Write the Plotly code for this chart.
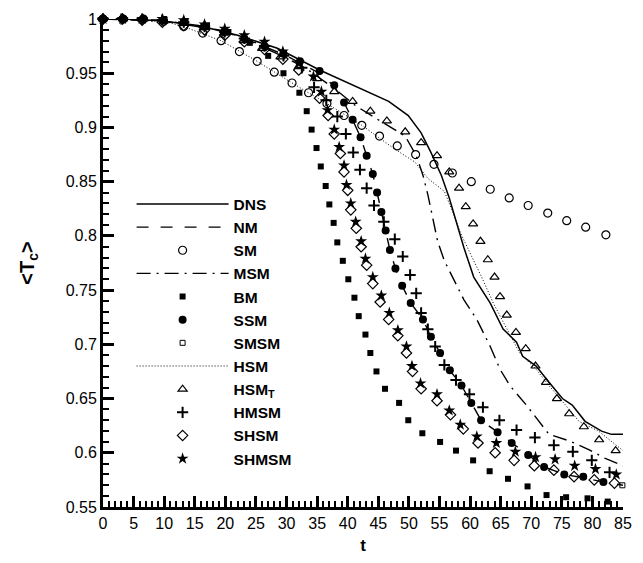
import plotly.graph_objects as go

# ---------------- data ----------------
dns_t = [0, 5, 10, 15.6, 22, 25.2, 28.5, 35.4, 41.3, 46.7, 49.9, 52.0, 53.6, 55.3, 56.6, 57.7, 59.0,
         60.6, 63.3, 65.4, 67.6, 68.6, 70.8, 72.9, 75.1, 76.7, 78.8, 81.5, 83.1, 85]
dns_v = [1.0, 1.0, 0.998, 0.994, 0.985, 0.979, 0.973, 0.953, 0.938, 0.924, 0.911, 0.895, 0.877, 0.856,
         0.835, 0.814, 0.789, 0.762, 0.738, 0.714, 0.702, 0.689, 0.680, 0.665, 0.650, 0.644, 0.629,
         0.620, 0.617, 0.617]

nm_t = [0, 10, 20, 25, 30, 33, 35.4, 37.8, 39.4, 40.8, 42.1, 43.1, 44.1, 44.8, 45.5, 46.2, 46.9, 47.8,
        48.9, 50.3, 52.3, 53.6, 55.1, 56.7, 58.6, 60.2, 61.8, 64.5, 66.8, 69.5, 72.1, 75.4, 78.5, 81.8, 85]
nm_v = [1.0, 0.999, 0.988, 0.978, 0.966, 0.957, 0.950, 0.938, 0.923, 0.907, 0.891, 0.874, 0.857, 0.840,
        0.822, 0.805, 0.787, 0.770, 0.754, 0.738, 0.723, 0.707, 0.692, 0.676, 0.662, 0.646, 0.630, 0.619,
        0.609, 0.598, 0.587, 0.580, 0.577, 0.573, 0.570]

sm_t = [0, 3.3, 6.6, 9.9, 13.2, 16.3, 19.3, 22.3, 25.2, 28.0, 30.9, 33.6, 36.6, 39.4, 42.3, 45.2, 48.1,
        51.1, 54.1, 57.1, 60.2, 63.3, 66.4, 69.5, 72.7, 75.8, 78.9, 82.2]
sm_v = [1.0, 1.0, 1.0, 0.998, 0.993, 0.987, 0.980, 0.970, 0.961, 0.951, 0.941, 0.932, 0.922, 0.911,
        0.902, 0.892, 0.883, 0.875, 0.866, 0.858, 0.850, 0.843, 0.835, 0.828, 0.821, 0.814, 0.808, 0.801]

msm_t = [0, 10, 20, 25, 30, 33.3, 37.8, 41.3, 45.6, 49.4, 51.2, 52.3, 53.1, 53.9, 54.7, 55.8, 57.4, 59.0,
         61.1, 63.3, 64.9, 66.5, 69.2, 71.3, 72.9, 76.2, 79.4, 82.0, 85]
msm_v = [1.0, 0.998, 0.989, 0.977, 0.964, 0.954, 0.936, 0.920, 0.905, 0.892, 0.874, 0.856, 0.838, 0.817,
         0.795, 0.777, 0.759, 0.741, 0.723, 0.698, 0.677, 0.662, 0.644, 0.629, 0.617, 0.611, 0.603,
         0.595, 0.588]

bm_t = [0, 3.3, 6.6, 10, 13.5, 17, 20.5, 24, 27, 29.5, 32.1, 33.3, 34.1, 34.9, 35.6, 36.4, 37.0, 37.7,
        38.3, 39.2, 40.1, 41.1, 41.8, 42.9, 43.7, 44.7, 46.1, 48.4, 49.9, 52.2, 55.1, 57.7, 60.5, 63.2,
        66.2, 69.4, 72.5, 75.7, 79.2, 82.5]
bm_v = [1.0, 1.0, 1.0, 1.0, 0.998, 0.994, 0.988, 0.978, 0.966, 0.950, 0.932, 0.915, 0.898, 0.881, 0.864,
        0.846, 0.829, 0.812, 0.794, 0.777, 0.760, 0.743, 0.726, 0.709, 0.692, 0.675, 0.659, 0.646, 0.630,
        0.618, 0.610, 0.602, 0.593, 0.583, 0.576, 0.569, 0.561, 0.559, 0.558, 0.555]

ssm_t = [0, 3.3, 6.6, 9.9, 13.2, 16.5, 19.8, 23.1, 26.4, 29.5, 32.2, 35.4, 37.8, 39.4, 40.8, 42.1, 43.1,
         44.1, 44.8, 45.5, 46.2, 46.9, 47.8, 48.9, 50.3, 52.3, 53.6, 55.1, 56.7, 58.6, 60.2, 61.8, 64.5,
         66.8, 69.5, 72.1, 75.4, 78.5, 81.8]
ssm_v = [1.0, 1.0, 1.0, 0.999, 0.997, 0.993, 0.988, 0.982, 0.975, 0.968, 0.961, 0.952, 0.939, 0.923,
         0.907, 0.891, 0.874, 0.857, 0.840, 0.822, 0.805, 0.787, 0.770, 0.754, 0.738, 0.723, 0.707, 0.692,
         0.676, 0.662, 0.646, 0.630, 0.619, 0.609, 0.598, 0.587, 0.580, 0.578, 0.573]

smsm_t = [0, 3.3, 6.6, 9.9, 13.2, 16.5, 19.8, 23.1, 26.4, 29.5, 32.2, 35.4, 37.8, 39.4, 40.8, 42.1, 43.1,
          44.1, 44.8, 45.5, 46.2, 46.9, 47.8, 48.9, 50.3, 52.3, 53.6, 55.1, 56.7, 58.6, 60.2, 61.8, 64.5,
          66.8, 69.5, 72.1, 75.4, 78.5, 81.8, 84.9]
smsm_v = [1.0, 1.0, 1.0, 0.999, 0.997, 0.993, 0.988, 0.982, 0.975, 0.968, 0.961, 0.952, 0.939, 0.923,
          0.907, 0.891, 0.874, 0.857, 0.840, 0.822, 0.805, 0.787, 0.770, 0.754, 0.738, 0.723, 0.707, 0.692,
          0.676, 0.662, 0.646, 0.630, 0.619, 0.609, 0.598, 0.587, 0.580, 0.578, 0.573, 0.570]

hsm_t = [0, 9.9, 13.2, 19.3, 25.2, 30.9, 36.6, 42.3, 47.7, 51.0, 53.1, 55.8, 57.1, 58.5, 60.1, 61.9, 63.8,
         66.0, 68.1, 70.8, 72.9, 75.6, 77.8, 81.0, 85]
hsm_v = [1.0, 0.998, 0.993, 0.980, 0.961, 0.941, 0.922, 0.902, 0.880, 0.868, 0.853, 0.841, 0.823, 0.802,
         0.783, 0.762, 0.738, 0.714, 0.692, 0.677, 0.662, 0.644, 0.629, 0.620, 0.602]

hsmt_t = [0, 3.3, 6.6, 9.9, 13.2, 16.5, 19.8, 23.0, 26.0, 29.0, 32.0, 35.0, 37.8, 40.8, 43.7, 46.4, 49.4,
          52.0, 54.6, 56.6, 58.2, 59.3, 60.5, 61.7, 62.9, 64.0, 64.9, 66.0, 67.5, 69.1, 70.7, 72.4, 74.2,
          76.2, 78.6, 81.1, 83.8]
hsmt_v = [1.0, 1.0, 1.0, 0.998, 0.996, 0.992, 0.987, 0.980, 0.973, 0.965, 0.956, 0.945, 0.933, 0.924,
          0.915, 0.906, 0.896, 0.886, 0.874, 0.859, 0.844, 0.827, 0.811, 0.795, 0.778, 0.762, 0.744, 0.727,
          0.711, 0.696, 0.680, 0.665, 0.650, 0.636, 0.624, 0.612, 0.602]

hmsm_t = [0, 3.0, 6.4, 9.7, 13.2, 16.6, 19.9, 23.1, 26.4, 29.5, 32.5, 34.5, 36.5, 38.3, 39.7, 40.9, 42.0,
          43.1, 44.3, 45.9, 47.7, 49.0, 50.2, 51.2, 52.0, 53.1, 54.3, 55.8, 57.7, 59.9, 62.1, 64.8, 67.6,
          70.6, 73.7, 76.8, 79.9, 82.8]
hmsm_v = [1.0, 1.0, 1.0, 0.999, 0.997, 0.993, 0.988, 0.982, 0.975, 0.966, 0.955, 0.937, 0.925, 0.910,
          0.894, 0.877, 0.861, 0.844, 0.828, 0.813, 0.797, 0.781, 0.764, 0.747, 0.729, 0.714, 0.698, 0.681,
          0.667, 0.654, 0.642, 0.630, 0.621, 0.614, 0.607, 0.601, 0.593, 0.582]

shsm_t = [0, 3.2, 6.4, 9.7, 13.2, 16.6, 19.9, 23.1, 26.4, 29.4, 32.0, 35.4, 36.8, 37.8, 38.8, 39.4, 40.0,
          40.5, 41.4, 42.2, 43.1, 44.1, 45.3, 46.7, 48.2, 49.6, 50.6, 52.0, 54.6, 56.8, 58.9, 61.3, 64.1,
          67.2, 70.5, 73.7, 77.0, 80.3, 83.6]
shsm_v = [1.0, 1.0, 0.999, 0.997, 0.994, 0.990, 0.985, 0.979, 0.972, 0.963, 0.953, 0.927, 0.911, 0.894,
          0.876, 0.859, 0.842, 0.824, 0.807, 0.790, 0.773, 0.756, 0.739, 0.723, 0.708, 0.692, 0.675, 0.659,
          0.648, 0.635, 0.622, 0.609, 0.600, 0.593, 0.588, 0.584, 0.578, 0.575, 0.572]

shmsm_t = [0, 3.2, 6.4, 9.7, 13.2, 16.6, 19.9, 23.1, 26.4, 29.4, 32.0, 34.4, 35.7, 36.7, 37.8, 38.6, 39.4,
           39.8, 40.5, 41.3, 42.2, 42.9, 44.1, 45.5, 46.8, 48.2, 49.6, 50.5, 51.9, 54.6, 56.6, 58.4, 61.1,
           64.3, 67.4, 70.7, 73.9, 77.1, 80.5, 83.9]
shmsm_v = [1.0, 1.0, 1.0, 1.0, 0.999, 0.995, 0.991, 0.985, 0.979, 0.970, 0.960, 0.947, 0.933, 0.916,
           0.898, 0.882, 0.865, 0.847, 0.830, 0.813, 0.795, 0.779, 0.762, 0.745, 0.729, 0.713, 0.698, 0.680,
           0.664, 0.654, 0.639, 0.626, 0.615, 0.609, 0.601, 0.596, 0.594, 0.588, 0.585, 0.580]

x_ticks = list(range(0, 90, 5))
y_ticks = [0.55, 0.6, 0.65, 0.7, 0.75, 0.8, 0.85, 0.9, 0.95, 1.0]
y_labels = ["0.55", "0.6", "0.65", "0.7", "0.75", "0.8", "0.85", "0.9", "0.95", "1"]

# ---------------- figure ----------------
fig = go.Figure()

def line(t, v, name, dash, width=1.4):
    fig.add_trace(go.Scatter(x=t, y=v, mode="lines", name=name,
                             line=dict(color="black", width=width, dash=dash),
                             legendgroup=name))

def mark(t, v, name, symbol, size, lw=1.2):
    fig.add_trace(go.Scatter(x=t, y=v, mode="markers", name=name, cliponaxis=False,
                             marker=dict(symbol=symbol, size=size, color="black",
                                         line=dict(color="black", width=lw)),
                             legendgroup=name))

line(dns_t, dns_v, "DNS", "solid", 1.5)
line(nm_t, nm_v, "NM", "12px,12px", 1.4)
mark(sm_t, sm_v, "SM", "circle-open", 8)
line(msm_t, msm_v, "MSM", "14px,6px,2px,6px", 1.4)
mark(bm_t, bm_v, "BM", "square", 6, 0)
mark(ssm_t, ssm_v, "SSM", "circle", 8, 0)
mark(smsm_t, smsm_v, "SMSM", "square-open", 5, 1)
line(hsm_t, hsm_v, "HSM", "1px,2px", 1.0)
mark(hsmt_t, hsmt_v, "HSM<sub>T</sub>", "triangle-up-open", 8)
mark(hmsm_t, hmsm_v, "HMSM", "cross-thin-open", 8, 2)
mark(shsm_t, shsm_v, "SHSM", "diamond-open", 8)
mark(shmsm_t, shmsm_v, "SHMSM", "star", 9, 0)

axis_font = dict(family="Liberation Sans, Arial, sans-serif", size=16, color="black")

fig.update_layout(
    width=643, height=563,
    margin=dict(l=103, r=11, t=15, b=53),
    paper_bgcolor="white", plot_bgcolor="white",
    font=axis_font,
    showlegend=True,
    legend=dict(
        x=0.055, y=0.655, xanchor="left", yanchor="top",
        bgcolor="rgba(0,0,0,0)",
        font=dict(family="Liberation Sans, Arial, sans-serif", size=15.5, color="black", weight="bold"),
        itemwidth=92, traceorder="grouped", tracegroupgap=0,
    ),
    xaxis=dict(
        range=[0, 85], tickmode="array", tickvals=x_ticks,
        showline=True, linecolor="black", linewidth=3, mirror=False,
        showgrid=False, zeroline=False,
        ticks="inside", ticklen=11, tickwidth=2.5, tickcolor="black",
        minor=dict(ticks="inside", ticklen=6, tickwidth=1.5, tickcolor="black", dtick=1, showgrid=False),
        tickfont=axis_font,
        title=dict(text="<b>t</b>", font=dict(family="Liberation Sans, Arial, sans-serif", size=17), standoff=8),
    ),
    yaxis=dict(
        range=[0.55, 1.0], tickmode="array", tickvals=y_ticks, ticktext=y_labels,
        showline=True, linecolor="black", linewidth=3, mirror=False,
        showgrid=False, zeroline=False,
        ticks="inside", ticklen=11, tickwidth=2.5, tickcolor="black",
        minor=dict(ticks="inside", ticklen=6, tickwidth=1.5, tickcolor="black", dtick=0.01, showgrid=False),
        tickfont=axis_font,
        title=dict(text="<b>&lt;T<sub>c</sub>&gt;</b>", font=dict(family="Liberation Sans, Arial, sans-serif", size=20), standoff=26),
    ),
)

fig.write_html("out.html")
